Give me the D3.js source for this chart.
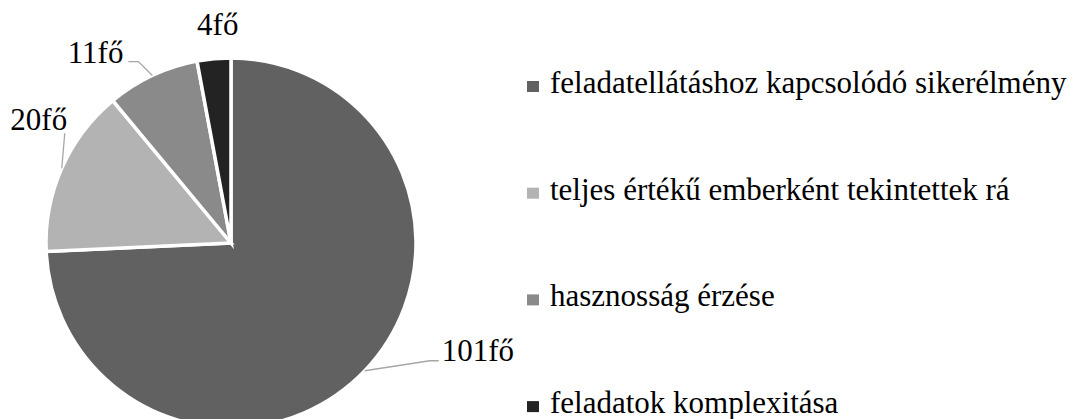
<!DOCTYPE html>
<html>
<head>
<meta charset="utf-8">
<script src="https://cdn.jsdelivr.net/npm/d3@7"></script>
<style>
  html, body { margin: 0; padding: 0; background: #fff; }
</style>
</head>
<body>
<svg id="chart" width="1083" height="419"></svg>
<script>
// ---- data ----
const categories = [
  "feladatellátáshoz kapcsolódó sikerélmény",
  "teljes értékű emberként tekintettek rá",
  "hasznosság érzése",
  "feladatok komplexitása"
];
const values = [101, 20, 11, 4];
const valueLabels = ["101fő", "20fő", "11fő", "4fő"];

// ---- layout / style ----
const colors = ["#616161", "#b3b3b3", "#8a8a8a", "#232323"];
const fontFamily = "'Liberation Serif', 'DejaVu Serif', serif";
const cx = 231, cy = 243, radius = 185;
const fontSize = 31;
const leaders = [
  { elbow: [65, -10], end: [9, 0], anchor: "start", text: [12, 0], line: true },
  { elbow: [3, -35], end: [0, 0], anchor: "middle", text: [-26, -3], line: true },
  { elbow: [-14, -14], end: [-10, 0], anchor: "end", text: [-15, 1], line: true },
  { elbow: [0, 0], end: [0, 0], anchor: "middle", text: [6, 0], line: false, polarR: 209 }
];

const svg = d3.select("#chart");
const g = svg.append("g").attr("transform", `translate(${cx},${cy})`);

const pie = d3.pie().sort(null).value(d => d)(values);
const arc = d3.arc().innerRadius(0).outerRadius(radius);
const edgeArc = d3.arc().innerRadius(radius).outerRadius(radius);

g.selectAll("path.slice")
  .data(pie)
  .join("path")
  .attr("class", "slice")
  .attr("d", arc)
  .attr("fill", (d, i) => colors[i])
  .attr("stroke", "#fff")
  .attr("stroke-width", 3.5)
  .attr("stroke-linejoin", "miter");

pie.forEach((d, i) => {
  const L = leaders[i];
  const mid = (d.startAngle + d.endAngle) / 2;
  let ax, ay;
  if (L.polarR) {
    ax = Math.sin(mid) * L.polarR;
    ay = -Math.cos(mid) * L.polarR;
  } else {
    [ax, ay] = edgeArc.centroid(d);
  }
  const ex = ax + L.elbow[0], ey = ay + L.elbow[1];
  const fx = ex + L.end[0], fy = ey + L.end[1];
  if (L.line) {
    g.append("polyline")
      .attr("points", [[ax, ay], [ex, ey], [fx, fy]].map(p => p.join(",")).join(" "))
      .attr("fill", "none")
      .attr("stroke", "#a6a6a6")
      .attr("stroke-width", 1.3);
  }
  g.append("text")
    .attr("x", ex + L.text[0])
    .attr("y", ey + L.text[1])
    .attr("text-anchor", L.anchor)
    .attr("font-family", fontFamily)
    .attr("font-size", fontSize)
    .attr("fill", "#000")
    .text(valueLabels[i]);
});

const legendX = 527, legendY0 = 93, legendStep = 106.7, sq = 12;
const lg = svg.append("g");
categories.forEach((c, i) => {
  const y = legendY0 + i * legendStep;
  lg.append("rect")
    .attr("x", legendX)
    .attr("y", y - 12)
    .attr("width", sq)
    .attr("height", sq - 1)
    .attr("fill", colors[i]);
  lg.append("text")
    .attr("x", legendX + 23)
    .attr("y", y)
    .attr("font-family", fontFamily)
    .attr("font-size", fontSize)
    .attr("fill", "#000")
    .text(c);
});
</script>
</body>
</html>
